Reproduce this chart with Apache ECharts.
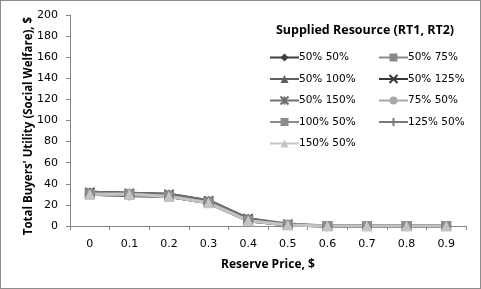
<!DOCTYPE html>
<html><head><meta charset="utf-8">
<script src="https://cdn.jsdelivr.net/npm/echarts@6/dist/echarts.min.js"></script>
<style>
html,body{margin:0;padding:0;background:#fff;}
#c{position:absolute;left:0;top:0;width:479px;height:287px;border:1px solid #8c8c8c;}
</style></head><body>
<div id="c"></div>
<script>
const categories = ['0','0.1','0.2','0.3','0.4','0.5','0.6','0.7','0.8','0.9'];
const seriesNames = ['50% 50%','50% 75%','50% 100%','50% 125%','50% 150%','75% 50%','100% 50%','125% 50%','150% 50%'];
const s50_50  = [30, 29, 28, 22, 5, 1, 0, 0, 0, 0];
const s50_75  = [31, 30, 29, 23, 6, 1, 0, 0, 0, 0];
const s50_100 = [32, 31, 29, 24, 6, 1, 0, 0, 0, 0];
const s50_125 = [32, 31, 30, 24, 7, 1, 0, 0, 0, 0];
const s50_150 = [32, 31, 30, 24, 7, 2, 0, 0, 0, 0];
const s75_50  = [30, 30, 28, 22, 5, 1, 0, 0, 0, 0];
const s100_50 = [30, 30, 28, 22, 5, 1, 0, 0, 0, 0];
const s125_50 = [30, 29, 28, 22, 5, 1, 0, 0, 0, 0];
const s150_50 = [30, 30, 28, 22, 5, 1, 0, 0, 0, 0];
const yTicks = {min: 0, max: 200, interval: 20};

const values = [s50_50, s50_75, s50_100, s50_125, s50_150, s75_50, s100_50, s125_50, s150_50];
const colors = ['#3f3f3f','#8a8a8a','#606060','#383838','#6e6e6e','#a8a8a8','#8c8c8c','#7a7a7a','#c4c4c4'];
const xPath = 'path://M0,0L10,10M10,0L0,10';
const starPath = 'path://M0,0L10,10M10,0L0,10M5,0L5,10';
const plusPath = 'path://M5,0L5,10M0,5L10,5';
const symbols = ['diamond','rect','triangle', xPath, starPath,'circle','rect', plusPath,'triangle'];
const sizes = [9,10,10,9,9,10,10,10,11];
const lineSym = [false,false,false,true,true,false,false,true,false];

const chart = echarts.init(document.getElementById('c'), null, {renderer:'canvas'});
const tickFont = {fontFamily:'DejaVu Sans', fontSize:11, color:'#000'};
const legendCommon = {
  orient:'vertical', top:46, itemGap:10.5, itemWidth:29, itemHeight:10,
  textStyle:{fontFamily:'DejaVu Sans', fontSize:10.5, color:'#000', padding:[0,0,0,-5]}
};
chart.setOption({
  animation:false,
  grid:{left:69, right:14, top:14, bottom:62},
  graphic:[{
    type:'text', x:28, y:125, rotation:Math.PI/2,
    style:{text:"Total Buyers' Utility (Social Welfare), $", font:'bold 11.5px "Open Sans"', fill:'#000', textAlign:'center', textVerticalAlign:'middle'}
  },{
    type:'text', x:364, y:29,
    style:{text:'Supplied Resource (RT1, RT2)', font:'bold 12.5px "Open Sans"', fill:'#000', textAlign:'center', textVerticalAlign:'middle'}
  }],
  legend:[
    Object.assign({left:263, data:[seriesNames[0],seriesNames[2],seriesNames[4],seriesNames[6],seriesNames[8]]}, legendCommon),
    Object.assign({left:372, data:[seriesNames[1],seriesNames[3],seriesNames[5],seriesNames[7]]}, legendCommon)
  ],
  xAxis:{
    type:'category', data:categories, boundaryGap:true,
    name:'Reserve Price, $', nameLocation:'middle', nameGap:33,
    nameTextStyle:{fontFamily:'Open Sans', fontWeight:'bold', fontSize:12, color:'#000'},
    axisLine:{lineStyle:{color:'#868686'}},
    axisTick:{show:true, inside:false, length:4, lineStyle:{color:'#868686'}},
    axisLabel:Object.assign({margin:13}, tickFont)
  },
  yAxis:{
    type:'value', min:yTicks.min, max:yTicks.max, interval:yTicks.interval,
    axisLine:{show:true, lineStyle:{color:'#868686'}},
    axisTick:{show:true, length:4, lineStyle:{color:'#868686'}},
    splitLine:{show:false},
    axisLabel:Object.assign({margin:12}, tickFont)
  },
  series: seriesNames.map((n,i)=>({
    name:n, type:'line', data:values[i], symbol:symbols[i], symbolSize:sizes[i],
    lineStyle:{color:colors[i], width:3},
    itemStyle:lineSym[i] ? {color:colors[i], borderColor:colors[i], borderWidth:1.5} : {color:colors[i], borderColor:colors[i], borderWidth:0},
    emphasis:{disabled:true}
  }))
});
</script></body></html>
